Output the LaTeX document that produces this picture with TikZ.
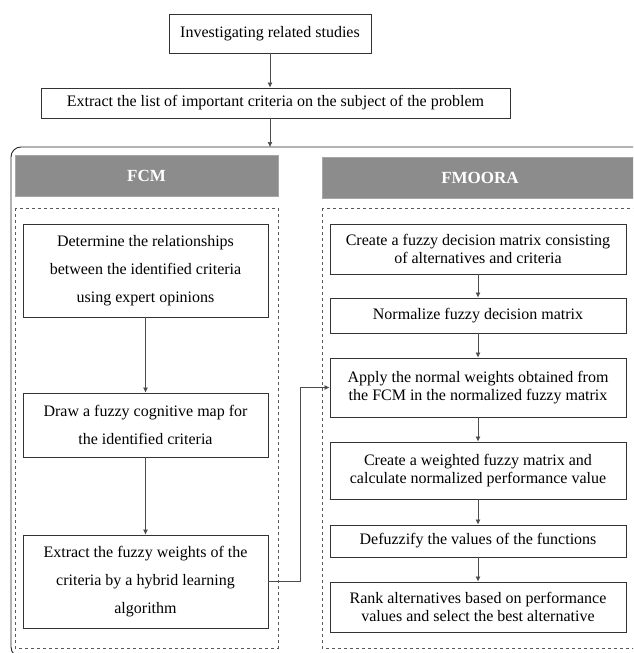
\documentclass[tikz,border=0pt]{standalone}
\usepackage{fontspec}
\setmainfont{Liberation Serif}
\usetikzlibrary{calc,positioning,arrows.meta}

\begin{document}
\begin{tikzpicture}[x=1pt, y=-1pt]
\tikzset{stepnode/.style={draw=black!80, line width=0.9pt, align=center, inner sep=0pt,
  font=\fontsize{16}{18.5}\selectfont},
fcmnode/.style={stepnode, minimum width=245pt, font=\fontsize{16}{28}\selectfont},
moonode/.style={stepnode, minimum width=296pt},
headnode/.style={fill=black!45, draw=black!35, line width=0.8pt, text=white,
  font=\fontsize{17}{20}\selectfont\bfseries, minimum height=41pt, inner sep=0pt},
groupbox/.style={draw=black!65, dashed, line width=0.8pt},
flow/.style={draw=black!70, line width=0.7pt, -{Latex[length=5pt,width=5pt]}}}

\useasboundingbox (0,0) rectangle (633,653);
\clip (0,0) rectangle (633,653);

\node (s0) [stepnode, minimum width=202pt, minimum height=39pt] at (270,33.5) {Investigating related studies};
\node (s1) [stepnode, minimum width=469pt, minimum height=30pt] at (275.5,103) {Extract the list of important criteria on the subject of the problem};

%% Outer frame and groups
\draw [black!85, line width=0.9pt, rounded corners=10pt] (11,147) rectangle (645,657);
\coordinate (top) at (270,147);
\node (fcm) [headnode, minimum width=263pt] at (146.5,176) {FCM};
\node (moora) [headnode, minimum width=316pt] at (480,177.5) {FMOORA};
\draw [groupbox] (15,208) rectangle (278,648);
\draw [groupbox] (322,208) rectangle (645,648);

%% FCM steps
\node (a) [fcmnode, minimum height=93pt] at (145.5,270.5) {Determine the relationships\\between the identified criteria\\using expert opinions};
\node (b) [fcmnode, minimum height=64pt] at (145.5,425) {Draw a fuzzy cognitive map for\\the identified criteria};
\node (c) [fcmnode, minimum height=93pt] at (145.5,581.5) {Extract the fuzzy weights of the\\criteria by a hybrid learning\\algorithm};

%% FMOORA steps
\node (d1) [moonode, minimum height=50pt] at (478,249) {Create a fuzzy decision matrix consisting\\of alternatives and criteria};
\node (d2) [moonode, minimum height=35pt] at (478,315.5) {Normalize fuzzy decision matrix};
\node (d3) [moonode, minimum height=59pt] at (478,387.5) {Apply the normal weights obtained from\\the FCM in the normalized fuzzy matrix};
\node (d4) [moonode, minimum height=57pt] at (478,470.5) {Create a weighted fuzzy matrix and\\calculate normalized performance value};
\node (d5) [moonode, minimum height=32pt] at (478,541) {Defuzzify the values of the functions};
\node (d6) [moonode, minimum height=50pt] at (478,607) {Rank alternatives based on performance\\values and select the best alternative};

%% Edges
\draw [flow] (s0.south) -- (s0.south |- s1.north);
\draw [flow] (s1.south -| top) -- (top);
\foreach \u/\v in {a/b, b/c, d1/d2, d2/d3, d3/d4, d4/d5, d5/d6} \draw [flow] (\u) -- (\v);
\draw [flow] (c.east) -- ++(32,0) |- (d3.west);

\end{tikzpicture}
\end{document}
